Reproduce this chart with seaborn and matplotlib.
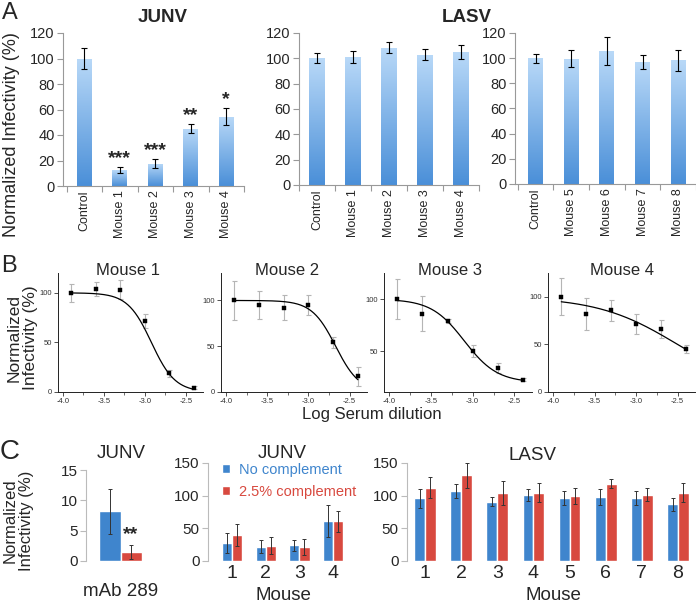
import numpy as np
import pandas as pd
import matplotlib
matplotlib.use("Agg")
import matplotlib.pyplot as plt
import seaborn as sns
from matplotlib.colors import LinearSegmentedColormap
from matplotlib.patches import Patch

# --- panel A: neutralization at fixed dilution ---
junv_labels = ["Control", "Mouse 1", "Mouse 2", "Mouse 3", "Mouse 4"]
junv_vals = [100, 12.5, 17.5, 45, 54.5]
junv_err = [8, 2.4, 3.7, 3.7, 6.7]
junv_stars = ["", "***", "***", "**", "*"]

lasv1_labels = ["Control", "Mouse 1", "Mouse 2", "Mouse 3", "Mouse 4"]
lasv1_vals = [100, 101, 108.5, 103, 105]
lasv1_err = [4, 4.8, 4.2, 4, 5.8]

lasv2_labels = ["Control", "Mouse 5", "Mouse 6", "Mouse 7", "Mouse 8"]
lasv2_vals = [100, 99.7, 105.5, 96.8, 98.2]
lasv2_err = [3.5, 7, 11.3, 5.8, 8.3]

# --- panel B: dose response ---
log_dil = [-3.9, -3.6, -3.3, -3.0, -2.7, -2.4]
m1_vals = [100, 104, 103, 71.5, 19, 4.2]
m1_err = [9.3, 7, 9.5, 7.3, 3.5, 1.5]
m2_vals = [100, 95, 92, 95, 54.5, 17]
m2_err = [21, 15, 13.5, 10.5, 6, 10]
m3_vals = [100, 86, 79, 50, 34, 22.6]
m3_err = [19, 16.5, 2, 5.7, 4.8, 1.5]
m4_vals = [100, 82, 86, 71.7, 66.4, 44.8]
m4_err = [19.5, 16.5, 11, 10.5, 9.7, 4.2]
# fit parameters: top, bottom, logIC50, hill slope
m1_fit = (100, 0, -2.92, 3.0)
m2_fit = (100, 0, -2.67, 3.0)
m3_fit = (100, 20, -3.1, 2.2)
m4_fit = (100, 0, -2.5, 0.9)

# --- panel C: complement ---
conds = ["No complement", "2.5% complement"]
mab_cat = ["mAb 289"]
mab_no = [8.2]
mab_no_err = [3.7]
mab_comp = [1.5]
mab_comp_err = [1.2]

junv_mice = ["1", "2", "3", "4"]
junv_no = [27, 22, 24, 61.5]
junv_no_err = [15.4, 9.7, 8, 24]
junv_comp = [39.5, 23.6, 21, 61]
junv_comp_err = [17, 13.6, 12.5, 16]

lasv_mice = ["1", "2", "3", "4", "5", "6", "7", "8"]
lasv_no = [96, 107.5, 91, 101, 96, 98, 96, 87]
lasv_no_err = [14.5, 10.5, 7.5, 8.5, 10.8, 12, 10.8, 10]
lasv_comp = [112.5, 131.5, 104.5, 104.5, 100, 118.5, 101.5, 104.5]
lasv_comp_err = [16, 19, 18.5, 14.7, 12.3, 7, 10.3, 14.7]

BLUE = "#3f85cd"
RED = "#d8493f"

sns.set_style("ticks")
plt.rcParams['font.family'] = ['Liberation Sans', 'DejaVu Sans']
plt.rcParams['axes.unicode_minus'] = False

W, H = 696, 605
fig = plt.figure(figsize=(W / 100, H / 100), dpi=100)


def rect(l, t, r, b):
    return [l / W, 1 - b / H, (r - l) / W, (b - t) / H]


grad_cmap = LinearSegmentedColormap.from_list("bar", ["#4a8fd8", "#b9d9f8"])
grad = np.linspace(0, 1, 256).reshape(-1, 1)


def draw_a(ax, labels, vals, errs, xlim, stars=None):
    df = pd.DataFrame({"sample": labels, "value": vals})
    sns.barplot(data=df, x="sample", y="value", color="#7fb3ec", width=0.42,
                errorbar=None, ax=ax)
    for bar in ax.containers[0]:
        x0, w, h = bar.get_x(), bar.get_width(), bar.get_height()
        im = ax.imshow(grad, extent=[x0, x0 + w, 0, h], origin="lower",
                       aspect="auto", cmap=grad_cmap, zorder=bar.get_zorder() + 0.1)
        im.set_clip_path(bar)
    ax.errorbar(range(len(labels)), vals, yerr=errs, fmt="none", ecolor="black",
                elinewidth=0.8, capsize=2, capthick=0.8, zorder=4)
    if stars:
        for i, s in enumerate(stars):
            if s:
                ax.text(i, vals[i] + errs[i] + 6.5, s, ha="center", va="center",
                        fontsize=14, fontweight="bold")
    ax.set_xlim(*xlim)
    ax.set_ylim(0, 120)
    ax.set_yticks(range(0, 121, 20))
    ax.set_xticks(np.arange(-0.5, len(labels), 1), minor=True)
    ax.tick_params(axis="x", which="major", length=0, rotation=90, labelsize=9, pad=3)
    ax.tick_params(axis="x", which="minor", length=4, color="#999999", width=0.8)
    ax.tick_params(axis="y", length=4, color="#999999", width=0.8, labelsize=10.5, pad=2)
    ax.set_xlabel("")
    ax.set_ylabel("")
    for side in ["top", "right"]:
        ax.spines[side].set_visible(False)
    for side in ["left", "bottom"]:
        ax.spines[side].set_color("#999999")
        ax.spines[side].set_linewidth(0.8)


def draw_b(ax, vals, errs, fit, ylim, yticks):
    df = pd.DataFrame({"log_dil": log_dil, "value": vals})
    ax.errorbar(log_dil, vals, yerr=errs, fmt="none", ecolor="#b5b5b5",
                elinewidth=0.8, capsize=1.8, capthick=0.8, zorder=2)
    top, bottom, ic50, hill = fit
    xs = np.linspace(log_dil[0], log_dil[-1], 200)
    ys = bottom + (top - bottom) / (1 + 10 ** ((xs - ic50) * hill))
    sns.lineplot(x=xs, y=ys, color="black", linewidth=0.9, ax=ax, zorder=3)
    sns.scatterplot(data=df, x="log_dil", y="value", marker="s", s=7,
                    color="black", edgecolor="black", linewidth=0.3, ax=ax, zorder=4)
    ax.set_xlim(-4.06, -2.29)
    ax.set_ylim(*ylim)
    ax.set_yticks(yticks)
    ax.set_xticks([-4.0, -3.5, -3.0, -2.5])
    ax.set_xticklabels(["-4.0", "-3.5", "-3.0", "-2.5"])
    ax.set_xticks(np.arange(-4.0, -2.29, 0.25), minor=True)
    ax.tick_params(axis="both", which="major", length=3, width=0.6, labelsize=5.5,
                   colors="#333333", pad=1.5)
    ax.tick_params(axis="x", which="minor", length=1.8, width=0.5, color="#333333")
    ax.set_xlabel("")
    ax.set_ylabel("")
    for side in ["top", "right"]:
        ax.spines[side].set_visible(False)
    for side in ["left", "bottom"]:
        ax.spines[side].set_linewidth(0.7)
        ax.spines[side].set_color("#222222")


def draw_c(ax, cats, no_vals, no_err, comp_vals, comp_err, width, xlim, ylim, yticks):
    n = len(cats)
    df = pd.DataFrame({"mouse": cats * 2,
                       "cond": [conds[0]] * n + [conds[1]] * n,
                       "value": no_vals + comp_vals})
    sns.barplot(data=df, x="mouse", y="value", hue="cond", hue_order=conds,
                palette=[BLUE, RED], saturation=1, width=width, errorbar=None,
                legend=False, ax=ax)
    for cont, errs in zip(list(ax.containers), [no_err, comp_err]):
        xs = [b.get_x() + b.get_width() / 2 for b in cont]
        hs = [b.get_height() for b in cont]
        ax.errorbar(xs, hs, yerr=errs, fmt="none", ecolor="#333333",
                    elinewidth=0.7, capsize=1.5, capthick=0.7, zorder=4)
    ax.set_xlim(*xlim)
    ax.set_ylim(*ylim)
    ax.set_yticks(yticks)
    ax.tick_params(axis="y", length=4, color="#bbbbbb", width=0.8, labelsize=11, pad=2)
    ax.tick_params(axis="x", length=0, labelsize=14, pad=3)
    ax.set_xlabel("")
    ax.set_ylabel("")
    for side in ["top", "right", "bottom"]:
        ax.spines[side].set_visible(False)
    ax.spines["left"].set_color("#bbbbbb")
    ax.spines["left"].set_linewidth(0.8)


# ---- A ----
a1 = fig.add_axes(rect(63, 33, 244, 186))
draw_a(a1, junv_labels, junv_vals, junv_err, (-0.6, 4.5), junv_stars)
a2 = fig.add_axes(rect(299, 33, 479, 185))
draw_a(a2, lasv1_labels, lasv1_vals, lasv1_err, (-0.5, 4.5))
a3 = fig.add_axes(rect(515, 33, 696, 184))
draw_a(a3, lasv2_labels, lasv2_vals, lasv2_err, (-0.58, 4.42))

fig.text(10 / W, 1 - 13 / H, "A", fontsize=17, ha="center", va="center")
fig.text(163 / W, 1 - 18 / H, "JUNV", fontsize=13.5, fontweight="bold", ha="center", va="center")
fig.text(467 / W, 1 - 18 / H, "LASV", fontsize=13.5, fontweight="bold", ha="center", va="center")
fig.text(12 / W, 1 - 135 / H, "Normalized Infectivity (%)", fontsize=13, rotation=90,
         ha="center", va="center")

# ---- B ----
b_specs = [
    (58, 203, m1_vals, m1_err, m1_fit, (0, 120), [0, 50, 100], "Mouse 1", 128),
    (221, 367, m2_vals, m2_err, m2_fit, (0, 130), [0, 50, 100], "Mouse 2", 287),
    (384, 532, m3_vals, m3_err, m3_fit, (11, 125), [50, 100], "Mouse 3", 450),
    (548, 695, m4_vals, m4_err, m4_fit, (0, 125), [0, 50, 100], "Mouse 4", 622),
]
for l, r, v, e, f, yl, yt, title, tx in b_specs:
    ax = fig.add_axes(rect(l, 273, r, 392))
    draw_b(ax, v, e, f, yl, yt)
    fig.text(tx / W, 1 - 270 / H, title, fontsize=12, ha="center", va="center")

fig.text(9 / W, 1 - 266 / H, "B", fontsize=17, ha="center", va="center")
fig.text(22 / W, 1 - 338 / H, "Normalized\nInfectivity (%)", fontsize=12.5, rotation=90,
         ha="center", va="center", linespacing=1.1)
fig.text(372 / W, 1 - 414 / H, "Log Serum dilution", fontsize=12, ha="center", va="center")

# ---- C ----
c1 = fig.add_axes(rect(86, 470, 155, 561))
draw_c(c1, mab_cat, mab_no, mab_no_err, mab_comp, mab_comp_err, 0.8,
       (-0.64, 0.64), (0, 15), [0, 5, 10, 15])
c1.tick_params(axis="x", labelsize=13.5, pad=16)
red_bar = c1.containers[1][0]
c1.text(red_bar.get_x() + red_bar.get_width() / 2 - 0.02,
        mab_comp[0] + mab_comp_err[0] + 1.6, "**", ha="center", va="center",
        fontsize=14, fontweight="bold")

c2 = fig.add_axes(rect(208, 463, 350, 561))
draw_c(c2, junv_mice, junv_no, junv_no_err, junv_comp, junv_comp_err, 0.6,
       (-0.71, 3.5), (0, 150), [0, 50, 100, 150])
leg = c2.legend([Patch(facecolor=BLUE), Patch(facecolor=RED)], conds,
                loc="upper left", bbox_to_anchor=(0.1, 1.0), frameon=False,
                fontsize=10.5, handlelength=0.55, handleheight=0.55,
                handletextpad=0.6, labelspacing=0.53, borderpad=0, borderaxespad=0)
for t, c in zip(leg.get_texts(), [BLUE, RED]):
    t.set_color(c)

c3 = fig.add_axes(rect(407, 463, 696, 561))
draw_c(c3, lasv_mice, lasv_no, lasv_no_err, lasv_comp, lasv_comp_err, 0.6,
       (-0.5, 7.5), (0, 150), [0, 50, 100, 150])

fig.text(10 / W, 1 - 452 / H, "C", fontsize=20, ha="center", va="center")
fig.text(121 / W, 1 - 454 / H, "JUNV", fontsize=13.5, ha="center", va="center")
fig.text(282 / W, 1 - 454 / H, "JUNV", fontsize=13.5, ha="center", va="center")
fig.text(532 / W, 1 - 456 / H, "LASV", fontsize=13.5, ha="center", va="center")
fig.text(283 / W, 1 - 595 / H, "Mouse", fontsize=13.5, ha="center", va="center")
fig.text(553 / W, 1 - 595 / H, "Mouse", fontsize=13.5, ha="center", va="center")
fig.text(18 / W, 1 - 521 / H, "Normalized\nInfectivity (%)", fontsize=12, rotation=90,
         ha="center", va="center", linespacing=1.1)

fig.savefig("out.png", dpi=100)
